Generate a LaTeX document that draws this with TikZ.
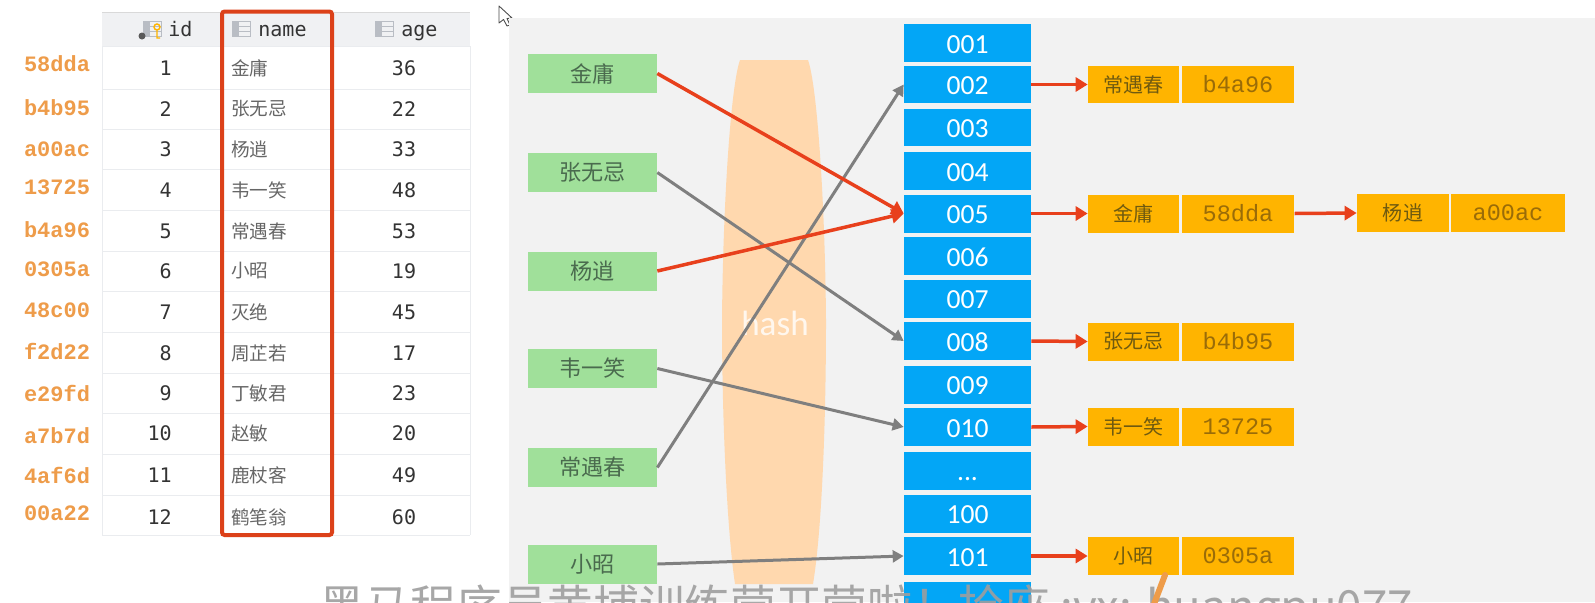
\documentclass[tikz,border=0pt]{standalone}
\usepackage{fontspec}
\usetikzlibrary{arrows.meta}
\newfontfamily\cjk{Noto Sans CJK SC}
\newfontfamily\gridfont{DejaVu Sans Mono}
\newfontfamily\addrfont{Liberation Mono}
\newfontfamily\slotfont{Carlito}
\definecolor{panelgrey}{HTML}{F2F2F2}
\definecolor{headgrey}{HTML}{F0F1F3}
\definecolor{rowgrey}{HTML}{EAECEF}
\definecolor{boxred}{HTML}{DC4119}
\definecolor{addrorange}{HTML}{EE9C4A}
\definecolor{keygreen}{HTML}{A0E09A}
\definecolor{keytext}{HTML}{4A6B4E}
\definecolor{slotblue}{HTML}{03A6F6}
\definecolor{entryamber}{HTML}{FFB400}
\definecolor{entrytext}{HTML}{6F5A10}
\definecolor{addrtext}{HTML}{9A6C08}
\definecolor{hashpeach}{HTML}{FFD8AE}
\definecolor{arrowred}{HTML}{E8401C}
\definecolor{arrowgrey}{HTML}{7F7F7F}
\definecolor{icongrey}{HTML}{B9BDC4}
\tikzset{
  tabicon/.pic={
    \fill[icongrey] (0,0) rectangle (19,16);
    \foreach \cy in {1,6,11}
      \fill[headgrey] (7,\cy) rectangle (18,\cy+4);
  }
}
\begin{document}
\begin{tikzpicture}
  [x=.02cm, y=-.02cm,
   headcell/.style={font=\gridfont\fontsize{11.4}{14}\selectfont, text=black!80, inner sep=0pt},
   idcell/.style={font=\gridfont\fontsize{11.4}{14}\selectfont, text=black!80, inner sep=0pt, anchor=east},
   agecell/.style={font=\gridfont\fontsize{11.4}{14}\selectfont, text=black!80, inner sep=0pt},
   namecell/.style={font=\cjk\fontsize{10.6}{13}\selectfont, text=black!60, inner sep=0pt, anchor=west},
   addr/.style={font=\addrfont\bfseries\fontsize{12.5}{15}\selectfont, text=addrorange, inner sep=0pt},
   keybox/.style={rectangle, fill=keygreen, text=keytext, font=\cjk\fontsize{12.6}{15}\selectfont, minimum width=2.58cm, minimum height=.78cm, inner sep=0pt},
   slot/.style={rectangle, fill=slotblue, text=white, font=\slotfont\fontsize{15.7}{18}\selectfont, text height=11.5pt, minimum width=2.54cm, minimum height=.76cm, inner sep=0pt},
   entryname/.style={rectangle, fill=entryamber, text=entrytext, font=\cjk\fontsize{11.4}{14}\selectfont, minimum width=1.82cm, minimum height=.76cm, inner sep=0pt},
   entryaddr/.style={rectangle, fill=entryamber, text=addrtext, font=\addrfont\fontsize{13.4}{16}\selectfont, minimum width=2.25cm, minimum height=.76cm, inner sep=0pt},
   rowline/.style={draw=rowgrey, line width=.5pt},
   hitarrow/.style={draw=arrowred, line width=.07cm, -{Triangle[length=.24cm,width=.28cm]}},
   missarrow/.style={draw=arrowgrey, line width=.06cm, -{Triangle[length=.22cm,width=.24cm]}}]

  \clip (0,0) rectangle (1595,602);
  \fill[white] (0,0) rectangle (1595,602);

  % left table
  \fill[headgrey] (102,12) rectangle (470,46);
  \draw[draw=black!15] (102,12) -- (470,12);
  \foreach \liney in {46,89,129,169,210,251,291,332,373,413,454,495,535}
    \draw[rowline] (102,\liney) -- (470,\liney);
  \draw[rowline] (102,46) -- (102,535);
  \draw[rowline] (470,46) -- (470,535);

  \pic at (143,21) {tabicon};
  \fill[black!65] (142,36) circle (3.5);
  \draw[draw=entryamber, line width=.8pt] (157,27) circle (3) (157,30) -- (157,38) -- (160,38);
  \pic at (232,21) {tabicon};
  \pic at (375,21) {tabicon};
  \node[headcell, anchor=base west] (headid) at (168,36) {id};
  \node[headcell, anchor=base west] (headname) at (258,36) {name};
  \node[headcell, anchor=base west] (headage) at (401,36) {age};

  \foreach \row/\rowy/\who/\old/\addry/\hex in {1/68/金庸/36/64/58dda,2/109/张无忌/22/108/b4b95,
      3/149/杨逍/33/149/a00ac,4/190/韦一笑/48/187/13725,5/231/常遇春/53/230/b4a96,6/271/小昭/19/269/0305a,
      7/312/灭绝/45/310/48c00,8/353/周芷若/17/351/f2d22,9/393/丁敏君/23/393/e29fd,10/433/赵敏/20/436/a7b7d,
      11/475/鹿杖客/49/475/4af6d,12/517/鹤笔翁/60/513/00a22} {
    \node[addr] (addr\row) at (57,\addry) {\hex};
    \node[idcell] (id\row) at (172,\rowy) {\row};
    \node[namecell] (name\row) at (231,\rowy) {\who};
    \node[agecell] (age\row) at (404,\rowy) {\old};
  }

  \draw[draw=boxred, line width=.08cm, rounded corners=1.5pt] (222,11.5) rectangle (332,535);

  % cursor
  \draw[fill=white, draw=black!70, line width=.5pt, line join=round]
    (499,6) -- (499,23) -- (503.5,19.5) -- (507,26) -- (510,25) -- (507,18.5) -- (512,18) -- cycle;

  % right panel
  \fill[panelgrey] (509,18) rectangle (1595,602);
  \fill[hashpeach] (740,60) -- (808,60) .. controls (817,85) and (825,200) .. (826,320)
    .. controls (826,420) and (822,530) .. (813,584) -- (735,584)
    .. controls (727,530) and (722,420) .. (722,320) .. controls (723,200) and (731,85) .. (740,60) -- cycle;
  \node[text=white, text opacity=.8, font=\slotfont\fontsize{20}{22}\selectfont, inner sep=0pt] (hashword) at (775,323) {hash};

  \node[keybox] (jinyong) at (592.5,73.5) {金庸};
  \node[keybox] (zhang) at (592.5,172.5) {张无忌};
  \node[keybox] (yang) at (592.5,271) {杨逍};
  \node[keybox] (wei) at (592.5,368.5) {韦一笑};
  \node[keybox] (chang) at (592.5,467.5) {常遇春};
  \node[keybox] (zhao) at (592.5,564) {小昭};

  \foreach \slotlabel/\sloty in {001/43,002/84.5,003/127.5,004/171,005/213.5,
      006/256,007/298.5,008/341,009/384.5,010/427,100/513.5,101/556}
    \node[slot] (s\slotlabel) at (967.5,\sloty) {\slotlabel};
  \node[slot] (sdots) at (967.5,470.5) {...};
  \node[slot] (slast) at (967.5,600.5) {};

  \node[entryname] (echang) at (1133.5,84.5) {常遇春};
  \node[entryaddr] (achang) at (1238,84.5) {b4a96};
  \node[entryname] (ejin) at (1133.5,213.5) {金庸};
  \node[entryaddr] (ajin) at (1238,213.5) {58dda};
  \node[entryname, minimum width=1.84cm] (eyang) at (1403,213) {杨逍};
  \node[entryaddr, minimum width=2.28cm] (ayang) at (1508,213) {a00ac};
  \node[entryname] (ezhang) at (1133.5,341.5) {张无忌};
  \node[entryaddr] (azhang) at (1238,341.5) {b4b95};
  \node[entryname] (ewei) at (1133.5,426.5) {韦一笑};
  \node[entryaddr] (awei) at (1238,426.5) {13725};
  \node[entryname] (ezhao) at (1133.5,556) {小昭};
  \node[entryaddr] (azhao) at (1238,556) {0305a};

  \foreach \from/\to in {zhang/s008,chang/s002,wei/s010,zhao/s101}
    \draw[missarrow] (\from.east) -- (\to.west);
  \foreach \from/\to in {jinyong/s005,yang/s005,s002/echang,s005/ejin,ajin/eyang,s008/ezhang,s010/ewei,s101/ezhao}
    \draw[hitarrow] (\from.east) -- (\to.west);

  % caption over the bottom edge
  \node[anchor=base west, inner sep=0pt, text=black!38, text opacity=.9, font=\cjk\fontsize{26}{30}\selectfont] (notice) at (319,623)
    {黑马程序员黄埔训练营开营啦！抢座 :vx: huangpu077};
  \draw[draw=addrorange, line width=.12cm, line cap=round] (1165,575) -- (1154,604);
\end{tikzpicture}
\end{document}
